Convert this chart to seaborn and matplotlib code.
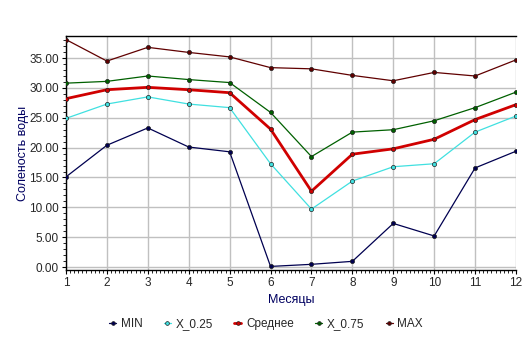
import numpy as np
import pandas as pd
import matplotlib
matplotlib.use("Agg")
import matplotlib.pyplot as plt
import seaborn as sns
from matplotlib.ticker import MultipleLocator

months = [1, 2, 3, 4, 5, 6, 7, 8, 9, 10, 11, 12]
s_min = [15.1, 20.4, 23.3, 20.1, 19.3, 0.1, 0.45, 0.95, 7.3, 5.2, 16.6, 19.4]
s_q25 = [24.9, 27.3, 28.5, 27.3, 26.7, 17.3, 9.7, 14.4, 16.8, 17.3, 22.6, 25.3]
s_mean = [28.2, 29.7, 30.1, 29.7, 29.2, 23.1, 12.7, 18.9, 19.8, 21.4, 24.7, 27.2]
s_q75 = [30.8, 31.1, 32.0, 31.4, 30.9, 25.9, 18.5, 22.6, 23.0, 24.5, 26.7, 29.3]
s_max = [38.1, 34.5, 36.8, 35.95, 35.2, 33.4, 33.2, 32.1, 31.2, 32.6, 32.0, 34.7]

series_names = ["MIN", "X_0.25", "Среднее", "X_0.75", "MAX"]
colors = ["#000050", "#40E0E0", "#D00000", "#006000", "#600000"]
widths = [0.9, 0.9, 2.0, 0.9, 0.9]

df = pd.DataFrame({"Месяц": months, "MIN": s_min, "X_0.25": s_q25,
                   "Среднее": s_mean, "X_0.75": s_q75, "MAX": s_max})
long = df.melt(id_vars="Месяц", var_name="series", value_name="value")

sns.set_style("white")
plt.rcParams['font.family'] = ['Liberation Sans', 'DejaVu Sans']

fig = plt.figure(figsize=(5.32, 3.47), dpi=100)
ax = fig.add_axes([66/532, 1 - 270/347, (516-66)/532, (270-36)/347])

for name, c, w in zip(series_names, colors, widths):
    sub = long[long["series"] == name]
    sns.lineplot(data=sub, x="Месяц", y="value", ax=ax, color=c, linewidth=w,
                 marker="o", markersize=3.0, markerfacecolor=c,
                 markeredgecolor="#202020", markeredgewidth=0.5,
                 label=name, legend=False, zorder=3)

ax.set_xlim(1, 12)
ax.set_ylim(-0.5, 38.7)
ax.xaxis.set_major_locator(MultipleLocator(1))
ax.xaxis.set_minor_locator(MultipleLocator(0.1))
ax.yaxis.set_major_locator(MultipleLocator(5))
ax.yaxis.set_minor_locator(MultipleLocator(1))
ax.set_yticks(np.arange(0, 36, 5))
ax.set_yticklabels([f"{v:.2f}" for v in np.arange(0, 36, 5)])
ax.grid(True, which="major", color="#C0C0C0", linewidth=1.0)
ax.set_axisbelow(True)
for s in ["left", "bottom", "top"]:
    ax.spines[s].set_color("black")
    ax.spines[s].set_linewidth(1.0)
ax.spines["right"].set_visible(False)
ax.tick_params(axis="both", which="major", direction="out", length=3,
               labelsize=8.5, color="black", pad=2, left=True, bottom=True)
ax.tick_params(axis="both", which="minor", direction="out", length=2, color="black",
               left=True, bottom=True)
ax.set_xlabel("Месяцы", color="#000060", fontsize=9, labelpad=4)
ax.set_ylabel("Соленость воды", color="#000060", fontsize=9, labelpad=0)

handles, labels = ax.get_legend_handles_labels()
fig.legend(handles, labels, loc="center", bbox_to_anchor=(0.5, 1 - 324/347),
           ncol=5, frameon=False, fontsize=8.5, handlelength=0.6,
           handletextpad=0.4, columnspacing=1.8, markerscale=0.9)

fig.savefig("out.png", dpi=100, facecolor="white")
